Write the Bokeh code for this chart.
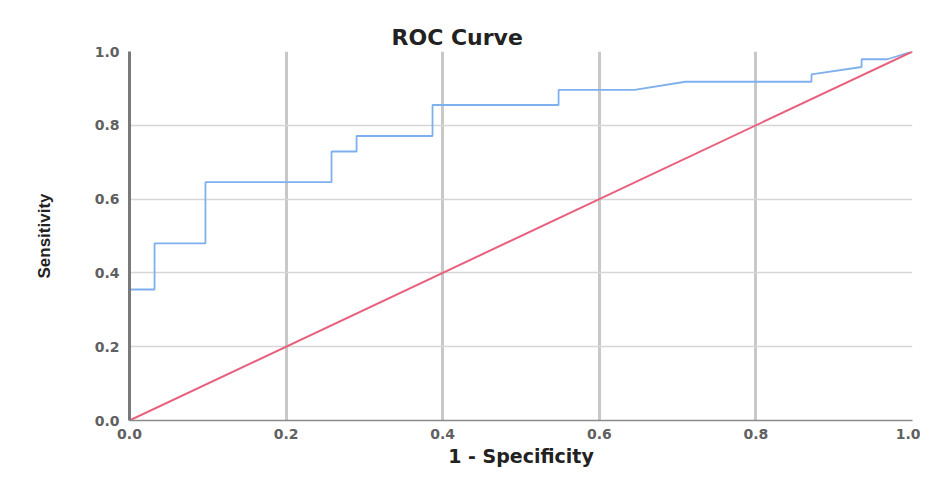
from bokeh.plotting import figure
from bokeh.models import FixedTicker, Range1d, CustomJSTickFormatter
from bokeh.embed import file_html
from bokeh.resources import INLINE

# ROC curve points (1 - specificity, sensitivity)
fpr = [0.0, 0.0, 0.032, 0.032, 0.097, 0.097, 0.258, 0.258, 0.290, 0.290, 0.387, 0.387,
       0.548, 0.548, 0.645, 0.710, 0.871, 0.871, 0.935, 0.935, 0.968, 1.0]
tpr = [0.0, 0.355, 0.355, 0.480, 0.480, 0.646, 0.646, 0.729, 0.729, 0.771, 0.771, 0.855,
       0.855, 0.896, 0.896, 0.918, 0.918, 0.938, 0.958, 0.979, 0.979, 1.0]
# reference line
ref_x = [0.0, 1.0]
ref_y = [0.0, 1.0]
ticks = [0.0, 0.2, 0.4, 0.6, 0.8, 1.0]

p = figure(width=920, height=470, output_backend="svg", toolbar_location=None,
           x_range=Range1d(0, 1), y_range=Range1d(0, 1),
           min_border_left=129, min_border_right=8, min_border_top=51, min_border_bottom=50)
p.outline_line_color = None
p.background_fill_color = "white"
p.border_fill_color = "white"

p.line(fpr, tpr, line_color="#7fb0ee", line_width=1.8)
p.line(ref_x, ref_y, line_color="#e8607e", line_width=2)

fmt = CustomJSTickFormatter(code="return tick.toFixed(1);")
for ax in (p.xaxis[0], p.yaxis[0]):
    ax.ticker = FixedTicker(ticks=ticks)
    ax.formatter = fmt
    ax.major_tick_line_color = None
    ax.minor_tick_line_color = None
    ax.major_tick_out = 0
    ax.major_tick_in = 0
    ax.major_label_text_font = "DejaVu Sans"
    ax.major_label_text_font_style = "bold"
    ax.major_label_text_font_size = "14px"
    ax.major_label_text_color = "#606060"
    ax.axis_label_text_color = "#222222"
    ax.axis_label_text_font_style = "bold"

p.xaxis.axis_line_color = "#8a8a8a"
p.xaxis.axis_line_width = 1.5
p.yaxis.axis_line_color = "#7a7a7a"
p.yaxis.axis_line_width = 3
p.xaxis.major_label_standoff = 8
p.yaxis.major_label_standoff = 10

p.xaxis.axis_label = "1 - Specificity"
p.xaxis.axis_label_text_font = "DejaVu Sans"
p.xaxis.axis_label_text_font_size = "19px"
p.xaxis.axis_label_standoff = 3

p.yaxis.axis_label = "Sensitivity"
p.yaxis.axis_label_text_font = "Liberation Sans"
p.yaxis.axis_label_text_font_size = "17px"
p.yaxis.axis_label_standoff = 38

p.xgrid.ticker = FixedTicker(ticks=ticks)
p.ygrid.ticker = FixedTicker(ticks=ticks)
p.xgrid.grid_line_color = "#c8c8c8"
p.xgrid.grid_line_width = 3
p.ygrid.grid_line_color = "#d6d6d6"
p.ygrid.grid_line_width = 1.5

p.title.text = "ROC Curve"
p.title.align = "left"
p.title.offset = 262
p.title.text_font = "DejaVu Sans"
p.title.text_font_style = "bold"
p.title.text_font_size = "22px"
p.title.text_color = "#222222"
p.title.standoff = 4

open("out.html", "w").write(file_html(p, INLINE))
